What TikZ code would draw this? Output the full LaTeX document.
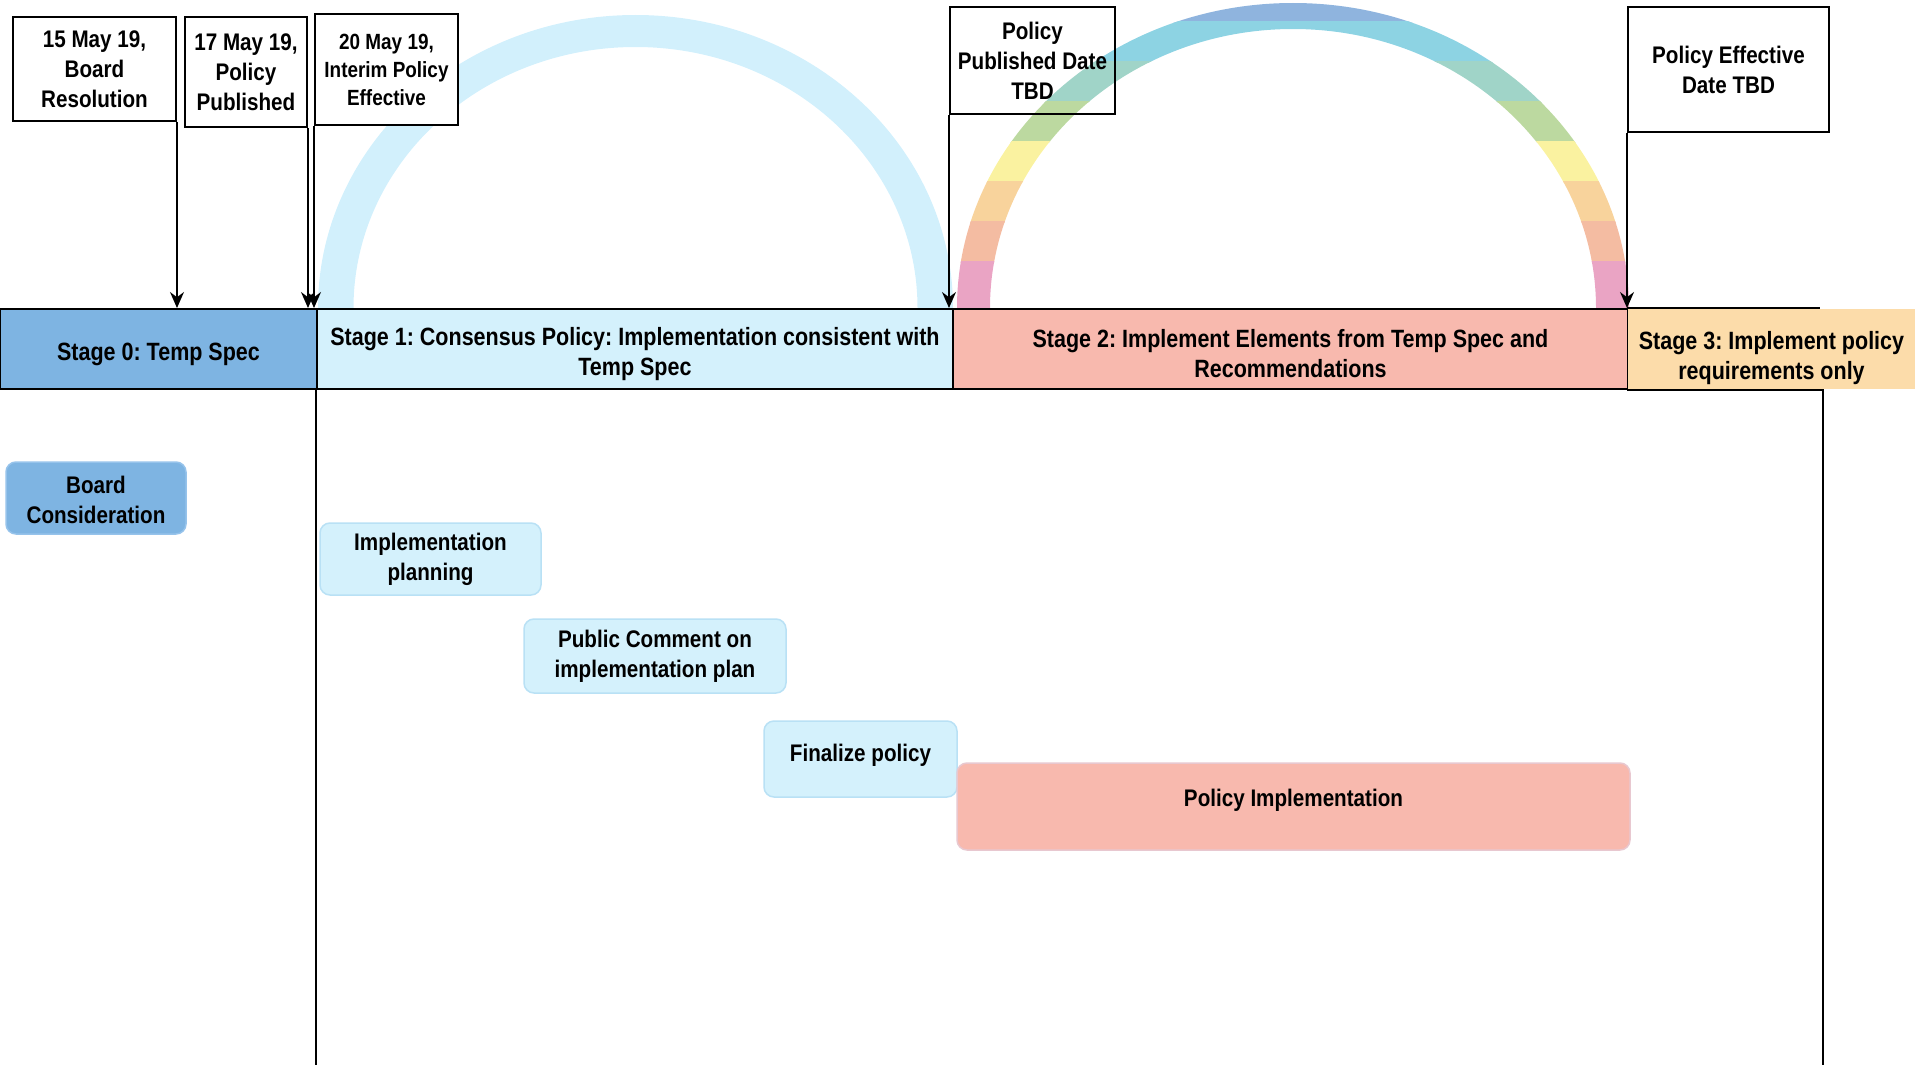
\documentclass[tikz,border=0pt]{standalone}
\usepackage{fontspec}
\setmainfont{Liberation Sans}[FakeStretch=0.86]
\usetikzlibrary{arrows.meta}
\frenchspacing

\definecolor{stagezero}{RGB}{126,180,226}
\definecolor{zeroline}{RGB}{150,195,235}
\definecolor{stageone}{RGB}{212,241,252}
\definecolor{oneline}{RGB}{185,225,245}
\definecolor{stagetwo}{RGB}{248,185,174}
\definecolor{twoline}{RGB}{232,200,208}
\definecolor{stagethree}{RGB}{252,220,170}
\definecolor{arcblue}{RGB}{210,240,252}
\definecolor{rbblue}{RGB}{143,180,222}
\definecolor{rbcyan}{RGB}{141,211,227}
\definecolor{rbteal}{RGB}{160,212,200}
\definecolor{rbgreen}{RGB}{188,217,160}
\definecolor{rbyellow}{RGB}{250,242,160}
\definecolor{rborange}{RGB}{248,211,156}
\definecolor{rbsalmon}{RGB}{244,188,162}
\definecolor{rbpink}{RGB}{234,164,196}

\newcommand{\datefont}{\bfseries\fontsize{24}{30}\selectfont}
\newcommand{\stagefont}{\bfseries\fontsize{25}{30}\selectfont}
% struts to push a label down (tall first line) or up (deep last line)
\newcommand{\dropline}[1]{\rule{0pt}{#1}}
\newcommand{\liftline}[1]{\rule[-#1]{0pt}{#1}}
% half ring standing on the stage bar: centre x, outer radii, inner radii
\newcommand{\archband}[5]{(#1-#2,-308) arc[start angle=180,end angle=0,x radius=#2,y radius=#3]
  -- (#1+#4,-308) arc[start angle=0,end angle=180,x radius=#4,y radius=#5] -- cycle}

\tikzset{
  datebox/.style={draw, line width=2pt, fill=white, align=center, inner sep=2pt, font=\datefont},
  stagebox/.style={draw, line width=2pt, align=center, minimum height=80pt, font=\stagefont},
  taskbox/.style={rounded corners=10pt, line width=1.5pt, align=center, font=\datefont},
  marker/.style={-{Stealth[length=16pt,width=14pt]}, line width=1.5pt},
}

\begin{document}
\begin{tikzpicture}[x=1pt,y=1pt]

\useasboundingbox (0,0) rectangle (1915,-1065);
\coordinate (floor) at (0,-1065);

% arcs over stage 1 and stage 2
\fill[arcblue] \archband{635.5}{317.5}{293}{282}{261};
\foreach \bandcol/\ytop/\ybot in {rbblue/5/-22, rbcyan/-22/-62, rbteal/-62/-102, rbgreen/-102/-142,
    rbyellow/-142/-182, rborange/-182/-222, rbsalmon/-222/-262, rbpink/-262/-308}{
  \begin{scope}
    \clip (940,\ytop+0.5) rectangle (1650,\ybot-0.5);
    \fill[\bandcol] \archband{1293}{336}{305}{303}{279};
  \end{scope}
}

\node[stagebox, fill=stagezero, minimum width=317pt] (s0) at (158.5,-349) {\dropline{28pt}Stage 0: Temp Spec};
\node[stagebox, fill=stageone, minimum width=636pt] (s1) at (635,-349)
  {\dropline{28pt}Stage 1: Consensus Policy: Implementation consistent with\\Temp Spec};
\node[stagebox, fill=stagetwo, minimum width=675pt] (s2) at (1290.5,-349)
  {\dropline{28pt}Stage 2: Implement Elements from Temp Spec and\\Recommendations};
\node[stagebox, draw=none, fill=stagethree, minimum width=287pt] (s3) at (1771.5,-349)
  {\dropline{36pt}Stage 3: Implement policy\\requirements only};
\draw[line width=2pt] (s3.north west) -- ++(193,0);
\draw[line width=2pt] (s3.south west) -- ++(196,0) coordinate (s3end) -- (s3end |- floor);
\draw[line width=2pt] (s1.south west) -- (s1.south west |- floor);

\node[datebox, minimum width=163pt, minimum height=104pt] (d1) at (94.5,-69) {15 May 19,\\Board\\Resolution};
\node[datebox, minimum width=122pt, minimum height=110pt] (d2) at (246,-72) {17 May 19,\\Policy\\Published};
\node[datebox, minimum width=143pt, minimum height=111pt, font=\bfseries\fontsize{22}{28}\selectfont]
  (d3) at (386.5,-69.5) {20 May 19,\\Interim Policy\\Effective};
\node[datebox, fill=none, minimum width=165pt, minimum height=107pt] (d4) at (1032.5,-60.5) {Policy\\Published Date\\TBD};
\node[datebox, minimum width=201pt, minimum height=125pt] (d5) at (1728.5,-69.5) {Policy Effective\\Date TBD};

\draw[marker] (d1.south east) -- (d1.south east |- s0.north);
\draw[marker] (d2.south east) -- (d2.south east |- s0.north);
\draw[marker] (d3.south west) -- (d3.south west |- s1.north);
\draw[marker] (d4.south west) -- (d4.south west |- s2.north);
\draw[marker] (d5.south west) -- (d5.south west |- s3.north);

\node[taskbox, fill=stagezero, draw=zeroline, minimum width=180pt, minimum height=72pt] (board) at (96,-498) {\dropline{22pt}Board\\Consideration};
\node[taskbox, fill=stageone, draw=oneline, minimum width=221pt, minimum height=72pt] (plan) at (430.5,-559) {Implementation\\planning};
\node[taskbox, fill=stageone, draw=oneline, minimum width=262pt, minimum height=74pt] (comment) at (655,-656) {Public Comment on\\implementation plan};
\node[taskbox, fill=stageone, draw=oneline, minimum width=193pt, minimum height=76pt] (final) at (860.5,-759) {Finalize policy\liftline{12pt}};
\node[taskbox, fill=stagetwo, draw=twoline, minimum width=673pt, minimum height=87pt] (rollout) at (1293.5,-806.5) {Policy Implementation\liftline{17pt}};

\end{tikzpicture}
\end{document}
